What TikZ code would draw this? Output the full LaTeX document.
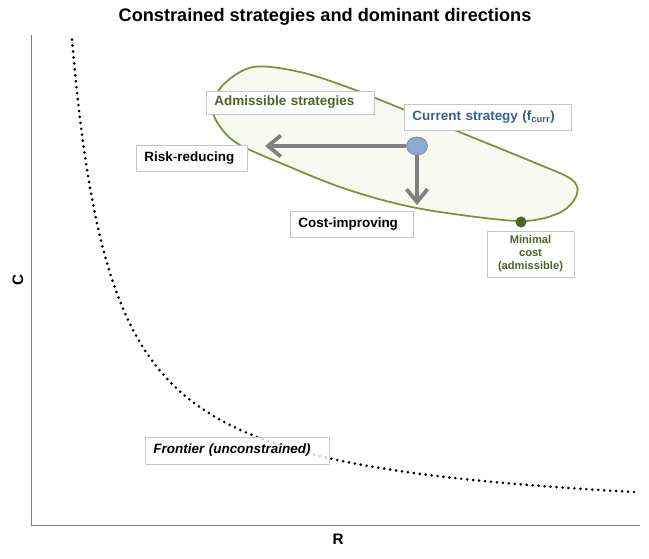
\documentclass[tikz,border=0pt]{standalone}
\usepackage{fontspec}
\setmainfont{Liberation Sans}
\usepackage{xcolor}
\usepackage{tikz}
\usetikzlibrary{arrows.meta,positioning,shapes.geometric}

\definecolor{olive}{HTML}{77933C}
\definecolor{darkolive}{HTML}{4F6228}
\definecolor{paleolive}{HTML}{F8FAF1}
\definecolor{stratblue}{HTML}{376092}
\definecolor{dotblue}{HTML}{8EAACB}
\definecolor{boxgray}{HTML}{C6C6C6}
\newdimen\px \px=0.03cm

\begin{document}
\begin{tikzpicture}[
    x=0.03cm, y=-0.03cm,
    lbl/.style={draw=boxgray, fill=white, line width=0.7pt, anchor=west, inner xsep=8\px, inner ysep=0pt, align=left, font=\fontsize{11.5}{13}\selectfont\bfseries},
    axis/.style={draw=black!50, line width=0.8pt},
    frontier/.style={line width=2.5pt, line cap=round, dash pattern=on 0pt off 5.1pt},
    region/.style={draw=olive, fill=paleolive, line width=1.5pt},
    dirarrow/.style={-{Straight Barb[length=11pt,width=18pt,line width=3.2pt]}, line width=3.4pt, draw=black!50}
]
    \useasboundingbox (0,0) rectangle (649,558);

    % Title and axes
    \node[font=\fontsize{15.5}{17}\selectfont\bfseries] (title) at (325,17) {Constrained strategies and dominant directions};
    \coordinate (ytop) at (31,35);
    \coordinate (orig) at (31,525);
    \coordinate (xend) at (640,525);
    \draw[axis] (ytop) -- (orig) -- (xend);
    \node[font=\fontsize{13}{15}\selectfont\bfseries] (xlab) at (338,539) {R};
    \node[font=\fontsize{13}{15}\selectfont\bfseries, rotate=90] (ylab) at (18,280) {C};

    % Unconstrained frontier
    \draw[frontier] plot[domain=72:636, samples=150] (\x, {525-100*(199/(\x-31))});

    % Admissible region
    \draw[region] plot[smooth cycle, tension=0.55] coordinates {
        (213,110) (222,86) (253,67) (300,72) (350,88) (400,108) (452,129) (533,162)
        (571,179) (577,194) (561,212) (521,221) (440,212) (390,202) (340,187)
        (290,167) (240,145) (221,128)};

    % Labels
    \node[lbl, text width=152\px, minimum height=23\px, text=darkolive] (adm) at (206,102.5) {Admissible strategies};
    \node[lbl, text width=151\px, minimum height=26\px, text=stratblue] (cur) at (404,117) {Current strategy (f\textsubscript{curr})};
    \node[lbl, text width=95\px, minimum height=26\px] (risk) at (136,158) {Risk-reducing};
    \node[lbl, text width=107\px, minimum height=26\px] (cost) at (290,224) {Cost-improving};
    \node[lbl, anchor=center, text width=71\px, minimum height=46\px, align=center, text=darkolive, font=\fontsize{9.5}{11}\selectfont\bfseries] (minc) at (530.5,254) {Minimal\\cost\\(admissible)};
    \node[lbl, text width=168\px, minimum height=27\px, fill opacity=0.8, text opacity=1, font=\fontsize{11.5}{13}\selectfont\bfseries\itshape] (front) at (145,450.5) {Frontier (unconstrained)};

    % Points
    \node[ellipse, draw=dotblue!80!black, fill=dotblue, line width=0.6pt, minimum width=21\px, minimum height=18\px, inner sep=0pt] (fc) at (417,146) {};
    \node[circle, fill=darkolive, minimum size=11\px, inner sep=0pt] (mc) at (521,222) {};

    % Dominant directions
    \coordinate (rr) at (265,146);
    \coordinate (ci) at (417,205);
    \draw[dirarrow] (fc.west) -- (rr);
    \draw[dirarrow] (fc.south) -- (ci);

\end{tikzpicture}
\end{document}
